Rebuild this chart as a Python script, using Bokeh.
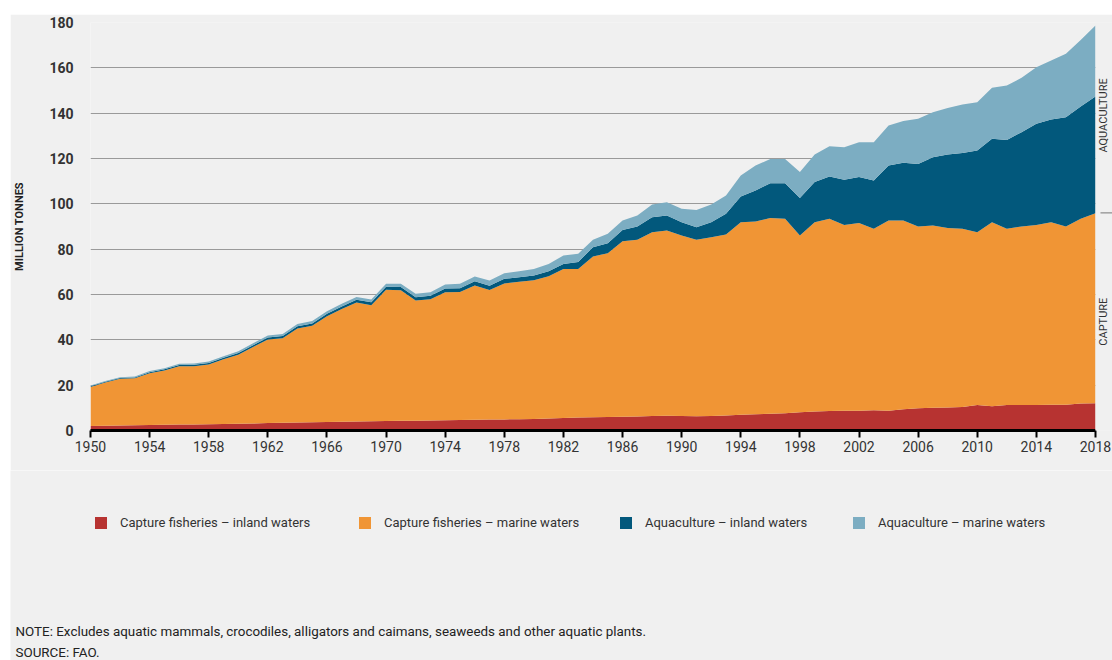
import math
from bokeh.plotting import figure
from bokeh.layouts import column, row
from bokeh.models import (FixedTicker, Label, Legend, LegendItem, Range1d,
                          ColumnDataSource, Spacer, BoxAnnotation, Arrow)
from bokeh.embed import file_html
from bokeh.resources import INLINE

years = list(range(1950, 2019))

capture_inland = [
    2.0, 2.1, 2.2, 2.3, 2.4, 2.5, 2.6, 2.7, 2.8, 2.9,
    3.0, 3.1, 3.3, 3.4, 3.5, 3.6, 3.7, 3.9, 4.0, 4.1,
    4.2, 4.3, 4.3, 4.4, 4.5, 4.6, 4.7, 4.8, 4.9, 5.0,
    5.1, 5.3, 5.5, 5.7, 5.9, 6.0, 6.1, 6.2, 6.4, 6.5,
    6.4, 6.3, 6.4, 6.6, 6.9, 7.2, 7.4, 7.6, 8.0, 8.4,
    8.6, 8.7, 8.7, 8.9, 8.7, 9.4, 9.8, 10.0, 10.2, 10.4,
    11.2, 10.7, 11.2, 11.3, 11.3, 11.4, 11.4, 11.9, 12.0]

capture_marine = [
    17.2, 19.1, 20.6, 20.7, 22.9, 24.0, 25.7, 25.7, 26.3, 28.5,
    30.4, 33.7, 36.8, 37.3, 41.5, 42.6, 46.7, 49.7, 52.5, 51.2,
    57.9, 57.6, 53.1, 53.5, 56.5, 56.5, 59.3, 57.2, 60.0, 60.6,
    61.2, 62.7, 65.8, 65.6, 70.9, 72.2, 77.4, 77.9, 81.1, 81.7,
    79.6, 77.8, 78.9, 79.9, 85.0, 85.0, 86.4, 85.8, 78.0, 83.5,
    84.8, 82.0, 82.8, 80.1, 83.9, 83.2, 80.2, 80.4, 79.1, 78.6,
    76.3, 81.2, 77.8, 78.7, 79.4, 80.5, 78.6, 81.5, 83.9]

aqua_inland = [
    0.3, 0.3, 0.35, 0.4, 0.45, 0.5, 0.55, 0.6, 0.65, 0.7,
    0.8, 0.85, 0.9, 0.95, 1.0, 1.05, 1.1, 1.15, 1.2, 1.25,
    1.3, 1.4, 1.4, 1.5, 1.6, 1.7, 1.8, 1.9, 2.0, 2.0,
    2.1, 2.3, 2.2, 3.0, 4.1, 4.4, 5.0, 5.9, 6.6, 6.6,
    5.9, 5.6, 6.6, 9.1, 11.3, 13.7, 15.3, 15.7, 16.6, 17.7,
    18.7, 19.9, 20.3, 21.3, 24.3, 25.5, 27.6, 30.2, 32.5, 33.4,
    36.0, 36.8, 39.2, 41.6, 44.6, 45.3, 48.2, 49.5, 51.4]

aqua_marine = [
    0.3, 0.3, 0.35, 0.4, 0.45, 0.5, 0.55, 0.6, 0.65, 0.7,
    0.8, 0.85, 0.9, 0.95, 1.0, 1.05, 1.1, 1.15, 1.2, 1.25,
    1.3, 1.4, 1.5, 1.6, 1.8, 1.9, 2.1, 2.3, 2.5, 2.7,
    2.9, 3.2, 3.7, 3.7, 3.2, 4.2, 4.1, 4.8, 5.6, 5.9,
    5.9, 7.6, 7.8, 8.1, 9.3, 11.0, 10.7, 10.7, 11.4, 12.2,
    13.3, 14.4, 15.4, 16.9, 17.7, 18.4, 19.9, 19.8, 20.5, 21.4,
    21.3, 22.5, 24.0, 24.0, 25.0, 26.0, 28.0, 29.4, 31.4]

series_labels = ["Capture fisheries \u2013 inland waters",
                 "Capture fisheries \u2013 marine waters",
                 "Aquaculture \u2013 inland waters",
                 "Aquaculture \u2013 marine waters"]
colors = ["#b73331", "#f09535", "#02587c", "#7cadc2"]
x_ticks = list(range(1950, 2019, 4))
y_ticks = list(range(0, 181, 20))
group_names = ["CAPTURE", "AQUACULTURE"]
group_centers = [48, 139]
group_divider = 96
note_text = "NOTE: Excludes aquatic mammals, crocodiles, alligators and caimans, seaweeds and other aquatic plants."
source_text = "SOURCE: FAO."

FONT = "Roboto"
TXT = "#333333"
BG = "#f0f0f0"
PX_PER_YEAR = 14.779
FIG_W = 1102
X0, X1 = years[0], years[-1]
X_END = X0 + (FIG_W - 80) / PX_PER_YEAR   # room right of 2018 for the group labels

# ---------------- main chart ----------------
p = figure(width=FIG_W, height=456, output_backend="svg", toolbar_location=None,
           x_range=Range1d(X0, X_END), y_range=Range1d(0, 180),
           min_border_left=80, min_border_right=0, min_border_top=8, min_border_bottom=40)
p.background_fill_color = BG
p.border_fill_color = BG
p.outline_line_color = None

src = ColumnDataSource(dict(year=years, ci=capture_inland, cm=capture_marine,
                            ai=aqua_inland, am=aqua_marine))
rs = p.varea_stack(["ci", "cm", "ai", "am"], x="year", color=colors, source=src)

p.xaxis.ticker = FixedTicker(ticks=x_ticks)
p.xaxis.bounds = (X0, X1)
p.xaxis.axis_line_color = "black"
p.xaxis.axis_line_width = 3
p.xaxis.major_tick_line_color = "black"
p.xaxis.major_tick_line_width = 2
p.xaxis.major_tick_out = 7
p.xaxis.major_tick_in = 0
p.xaxis.minor_tick_line_color = None
p.xaxis.major_label_standoff = 3
p.xaxis.major_label_text_font = FONT
p.xaxis.major_label_text_font_size = "14px"
p.xaxis.major_label_text_color = TXT

p.yaxis.ticker = FixedTicker(ticks=y_ticks)
p.yaxis.axis_line_color = None
p.yaxis.major_tick_line_color = None
p.yaxis.minor_tick_line_color = None
p.yaxis.major_tick_out = 0
p.yaxis.major_tick_in = 0
p.yaxis.major_label_standoff = 17
p.yaxis.major_label_text_font = FONT
p.yaxis.major_label_text_font_size = "14px"
p.yaxis.major_label_text_font_style = "bold"
p.yaxis.major_label_text_color = TXT
p.yaxis.axis_label = "MILLION TONNES"
p.yaxis.axis_label_text_font = FONT
p.yaxis.axis_label_text_font_size = "11px"
p.yaxis.axis_label_text_font_style = "bold"
p.yaxis.axis_label_text_color = "#222222"
p.yaxis.axis_label_standoff = 20

p.xgrid.grid_line_color = None
p.ygrid.ticker = FixedTicker(ticks=y_ticks)
p.ygrid.grid_line_color = "#9a9a9a"
p.ygrid.grid_line_width = 1.2

# blank strip right of 2018 (grid lines stop at the last year)
p.add_layout(BoxAnnotation(left=X1, fill_color=BG, fill_alpha=1, line_color=None))

# group labels on the right edge
for name, yc in zip(group_names, group_centers):
    p.add_layout(Label(x=X1 + 2 / PX_PER_YEAR, y=yc, text=name, angle=math.pi / 2,
                       text_align="center", text_baseline="top", text_font=FONT,
                       text_font_size="11px", text_color=TXT))
p.add_layout(Arrow(end=None, x_start=X1 + 5 / PX_PER_YEAR, x_end=X_END, y_start=group_divider,
                   y_end=group_divider, line_color="#777777", line_width=1))

# ---------------- legend and notes ----------------
p2 = figure(width=FIG_W, height=190, output_backend="svg", toolbar_location=None,
            x_range=Range1d(10, 10 + FIG_W), y_range=Range1d(660, 470),
            x_axis_type=None, y_axis_type=None, min_border=0)
p2.background_fill_color = BG
p2.border_fill_color = BG
p2.outline_line_color = None
p2.grid.grid_line_color = None

# same stacked series (falls outside this panel's view; used for legend swatches)
rs2 = p2.varea_stack(["ci", "cm", "ai", "am"], x="year", color=colors, source=src)

legend_x = [83, 347, 608, 841]
for lab, r, lx in zip(series_labels, rs2, legend_x):
    lg = Legend(items=[LegendItem(label=lab, renderers=[r])],
                location=(lx, 128), margin=0, padding=0, spacing=0,
                label_standoff=12, glyph_width=15, glyph_height=15, label_height=20,
                label_text_font=FONT, label_text_font_size="13px",
                label_text_color=TXT, background_fill_alpha=0, border_line_alpha=0)
    p2.add_layout(lg)

p2.add_layout(Label(x=15, y=631, text=note_text, text_align="left", text_baseline="middle",
                    text_font=FONT, text_font_size="13.4px", text_color="#222222"))
p2.add_layout(Label(x=15, y=652, text=source_text, text_align="left", text_baseline="middle",
                    text_font=FONT, text_font_size="13.4px", text_color="#222222"))

layout = column(Spacer(height=14),
                row(Spacer(width=10), p),
                row(Spacer(width=10), p2))

open("out.html", "w").write(file_html(layout, INLINE))
